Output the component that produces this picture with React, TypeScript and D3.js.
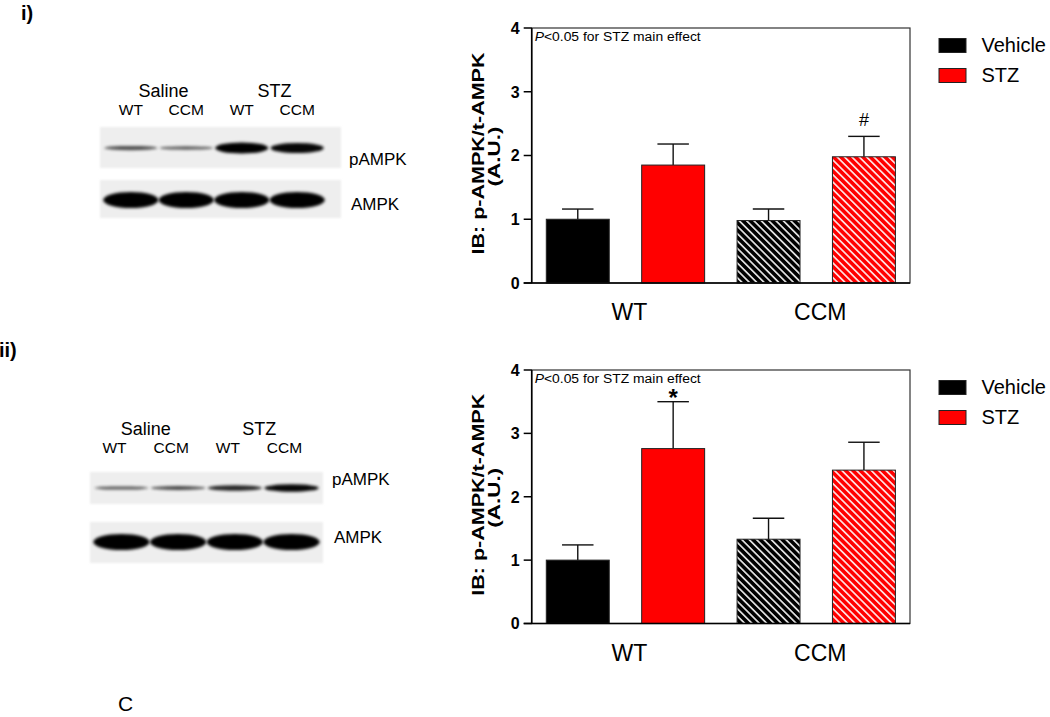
import * as d3 from 'd3';

const groups = ['WT', 'CCM'];
const series = ['Vehicle', 'STZ'];
const yTicks = [0, 1, 2, 3, 4];
const lanes = ['WT', 'CCM', 'WT', 'CCM'];
const treatments = ['Saline', 'STZ'];

// panel i: order WT-Vehicle, WT-STZ, CCM-Vehicle, CCM-STZ
const meanI = [1.0, 1.85, 0.98, 1.98];
const semI = [0.16, 0.33, 0.18, 0.32];
const markI = ['', '', '', '#'];
const pBandI = [0.5, 0.4, 1.0, 0.95];
const tBandI = [1, 1, 1, 1];

// panel ii
const meanII = [1.0, 2.76, 1.33, 2.42];
const semII = [0.24, 0.74, 0.33, 0.44];
const markII = ['', '*', '', ''];
const pBandII = [0.45, 0.55, 0.75, 0.95];
const tBandII = [1, 1, 1, 1];

const FONT = '"Liberation Sans", Arial, sans-serif';
const keys = groups.flatMap((g) => series.map((s) => `${g}|${s}`));
const fillColor = d3.scaleOrdinal<string, string>().domain(series).range(['#000000', '#ff0000']);

type PanelProps = {
  top: number;
  bottom: number;
  means: number[];
  sems: number[];
  marks: string[];
};

function BarPanel({ top, bottom, means, sems, marks }: PanelProps) {
  const left = 531.7;
  const right = 910;
  const x = d3.scaleBand<string>().domain(keys).range([left, right]).paddingInner(0.34).paddingOuter(0.153);
  const y = d3.scaleLinear().domain([0, 4]).range([bottom, top]);
  const bw = x.bandwidth();
  const midY = (top + bottom) / 2;

  return (
    <g fontFamily={FONT}>
      {keys.map((k, i) => {
        const [g, s] = k.split('|');
        const x0 = x(k) as number;
        const cx = x0 + bw / 2;
        const hatched = g === 'CCM';
        const fill = hatched ? `url(#hatch-${s === 'STZ' ? 'r' : 'k'})` : fillColor(s);
        const yTop = y(means[i]);
        const yErr = y(means[i] + sems[i]);
        return (
          <g key={k}>
            <line x1={cx} x2={cx} y1={yTop} y2={yErr} stroke="#111" strokeWidth={1.4} />
            <line x1={cx - bw * 0.25} x2={cx + bw * 0.25} y1={yErr} y2={yErr} stroke="#111" strokeWidth={1.4} />
            <rect x={x0} y={yTop} width={bw} height={bottom - yTop} fill={fill} stroke="#222" strokeWidth={1} />
            {marks[i] === '#' && (
              <text x={cx} y={yErr - 10} textAnchor="middle" fontSize={18}>#</text>
            )}
            {marks[i] === '*' && (
              <text x={cx} y={yErr + 4} textAnchor="middle" fontSize={24} fontWeight="bold">*</text>
            )}
          </g>
        );
      })}
      <rect x={left} y={top} width={right - left} height={bottom - top} fill="none" stroke="#333" strokeWidth={1.2} />
      <line x1={left} x2={left} y1={top} y2={bottom} stroke="#000" strokeWidth={1.6} />
      <line x1={left - 8} x2={right} y1={bottom} y2={bottom} stroke="#000" strokeWidth={1.6} />
      {yTicks.map((t) => (
        <g key={t}>
          <line x1={left - 8} x2={left} y1={y(t)} y2={y(t)} stroke="#000" strokeWidth={1.5} />
          <text x={left - 12} y={y(t)} dy="0.36em" textAnchor="end" fontSize={16} fontWeight="bold">{t}</text>
        </g>
      ))}
      <text x={left + 3} y={top + 12.5} fontSize={12.5} textLength={166} lengthAdjust="spacingAndGlyphs">
        <tspan fontStyle="italic">P</tspan>&lt;0.05 for STZ main effect
      </text>
      {groups.map((g) => {
        const a = x(`${g}|${series[0]}`) as number;
        const b = (x(`${g}|${series[1]}`) as number) + bw;
        return (
          <text key={g} x={(a + b) / 2 + 4} y={bottom + 37} textAnchor="middle" fontSize={23}>{g}</text>
        );
      })}
      <g transform={`translate(484,${midY - 2}) rotate(-90)`}>
        <text textAnchor="middle" fontSize={17} fontWeight="bold" textLength={202} lengthAdjust="spacingAndGlyphs">IB: p-AMPK/t-AMPK</text>
      </g>
      <g transform={`translate(500,${midY + 1}) rotate(-90)`}>
        <text textAnchor="middle" fontSize={17} fontWeight="bold" textLength={60} lengthAdjust="spacingAndGlyphs">(A.U.)</text>
      </g>
      {series.map((s, i) => (
        <g key={s}>
          <rect x={939} y={top + 10.5 + i * 30} width={27} height={14} fill={fillColor(s)} stroke="#222" strokeWidth={1} />
          <text x={981.5} y={top + 23.7 + i * 30} fontSize={20}>{s}</text>
        </g>
      ))}
    </g>
  );
}

type BlotProps = {
  x0: number;
  x1: number;
  panelL: number;
  panelR: number;
  headY: number;
  laneY: number;
  labelShift: number;
  headShift: number;
  pTop: number;
  pBot: number;
  pY: number;
  tTop: number;
  tBot: number;
  tY: number;
  pBand: number[];
  tBand: number[];
  pThick: number;
  tThick: number;
  labelX: number;
  pLabelY: number;
  tLabelY: number;
};

function Blot(p: BlotProps) {
  const lane = d3.scaleBand<number>().domain(d3.range(lanes.length)).range([p.x0, p.x1]).padding(0.04);
  const bw = lane.bandwidth();
  const cx = (i: number) => (lane(i) as number) + bw / 2;
  return (
    <g fontFamily={FONT}>
      {treatments.map((t, j) => (
        <text key={t} x={(cx(j * 2) + cx(j * 2 + 1)) / 2 + p.headShift} y={p.headY} textAnchor="middle" fontSize={18}>{t}</text>
      ))}
      {lanes.map((l, i) => (
        <text key={i} x={cx(i) + p.labelShift} y={p.laneY} textAnchor="middle" fontSize={15.5}>{l}</text>
      ))}
      <rect x={p.panelL} y={p.pTop} width={p.panelR - p.panelL} height={p.pBot - p.pTop} fill="#eeeeee" filter="url(#soft)" />
      <rect x={p.panelL} y={p.tTop} width={p.panelR - p.panelL} height={p.tBot - p.tTop} fill="#eeeeee" filter="url(#soft)" />
      {p.pBand.map((v, i) => (
        <ellipse key={i} cx={cx(i)} cy={p.pY} rx={bw / 2} ry={(2 + p.pThick * v * v) / 2} fill="#000" opacity={0.35 + 0.65 * v} filter="url(#blur)" />
      ))}
      {p.tBand.map((v, i) => (
        <ellipse key={i} cx={cx(i)} cy={p.tY} rx={bw / 2 + 1} ry={(p.tThick * v) / 2} fill="#000" opacity={v} filter="url(#blur)" />
      ))}
      <text x={p.labelX} y={p.pLabelY} fontSize={17}>pAMPK</text>
      <text x={p.labelX + 2} y={p.tLabelY} fontSize={17}>AMPK</text>
    </g>
  );
}

export default function App(): JSX.Element {
  return (
    <svg
      xmlns="http://www.w3.org/2000/svg"
      width={1050}
      height={717}
      style={{ position: 'absolute', left: 0, top: 0, background: '#fff' }}
    >
      <defs>
        <pattern id="hatch-k" patternUnits="userSpaceOnUse" width={5.2} height={5.2} patternTransform="rotate(-45)">
          <rect width={5.2} height={5.2} fill="#000" />
          <line x1={2.6} y1={0} x2={2.6} y2={5.2} stroke="#fff" strokeWidth={1.5} />
        </pattern>
        <pattern id="hatch-r" patternUnits="userSpaceOnUse" width={5.2} height={5.2} patternTransform="rotate(-45)">
          <rect width={5.2} height={5.2} fill="#ff0000" />
          <line x1={2.6} y1={0} x2={2.6} y2={5.2} stroke="#fff" strokeWidth={1.5} />
        </pattern>
        <filter id="blur" x="-20%" y="-150%" width="140%" height="400%">
          <feGaussianBlur stdDeviation={1.8} />
        </filter>
        <filter id="soft" x="-5%" y="-20%" width="110%" height="140%">
          <feGaussianBlur stdDeviation={1.2} />
        </filter>
      </defs>

      <text x={21} y={20} fontFamily={FONT} fontSize={20} fontWeight="bold">i)</text>
      <text x={-1} y={357} fontFamily={FONT} fontSize={20} fontWeight="bold">ii)</text>
      <text x={118} y={711} fontFamily={FONT} fontSize={21}>C</text>

      <Blot
        x0={102} x1={326} panelL={100} panelR={341} headY={96.7} laneY={115}
        labelShift={0} headShift={5}
        pTop={127} pBot={168} pY={148} tTop={180} tBot={218} tY={200}
        pBand={pBandI} tBand={tBandI} pThick={9} tThick={16}
        labelX={349} pLabelY={165} tLabelY={210}
      />
      <Blot
        x0={92} x1={321} panelL={90} panelR={323} headY={435} laneY={453.3}
        labelShift={-7} headShift={-4}
        pTop={472} pBot={504} pY={488} tTop={522} tBot={563} tY={542}
        pBand={pBandII} tBand={tBandII} pThick={6} tThick={16}
        labelX={332} pLabelY={485} tLabelY={543}
      />

      <BarPanel top={28} bottom={283} means={meanI} sems={semI} marks={markI} />
      <BarPanel top={370} bottom={623.5} means={meanII} sems={semII} marks={markII} />
    </svg>
  );
}
